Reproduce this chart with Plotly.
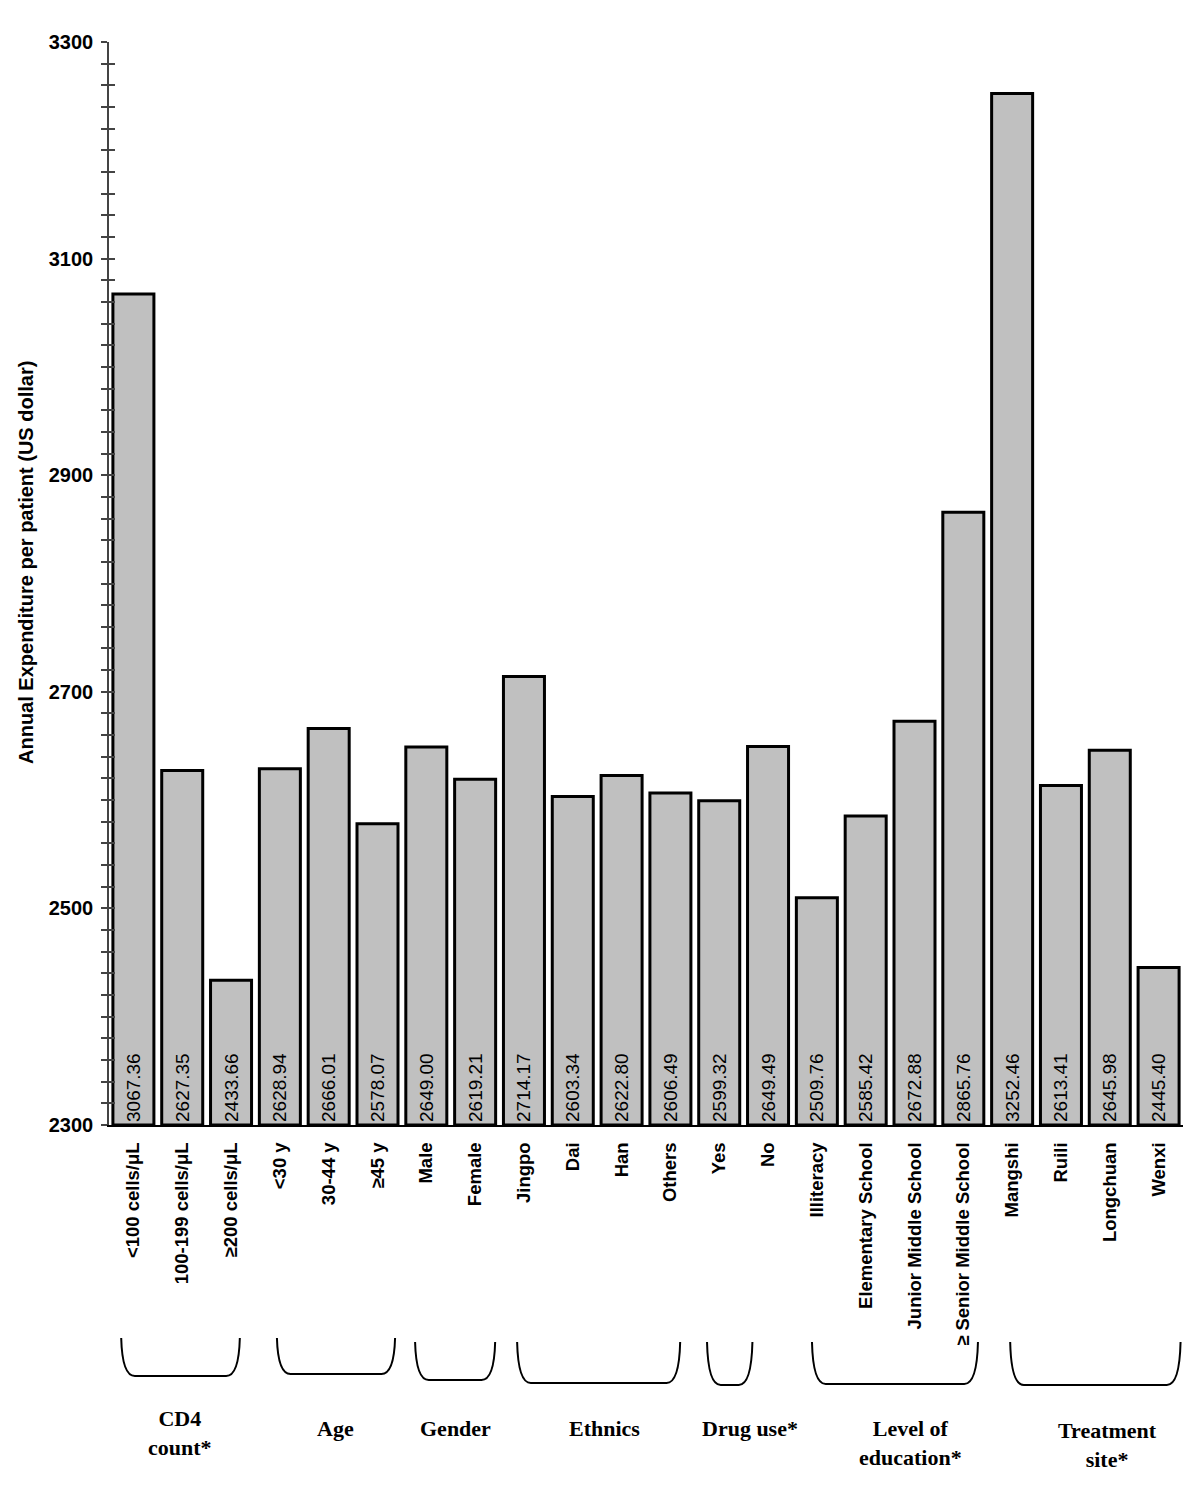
import plotly.graph_objects as go

# ---------------- data ----------------
categories = ["<100 cells/μL", "100-199 cells/μL", "≥200 cells/μL",
              "<30 y", "30-44 y", "≥45 y",
              "Male", "Female",
              "Jingpo", "Dai", "Han", "Others",
              "Yes", "No",
              "Illiteracy", "Elementary School", "Junior Middle School", "≥ Senior Middle School",
              "Mangshi", "Ruili", "Longchuan", "Wenxi"]
values = [3067.36, 2627.35, 2433.66,
          2628.94, 2666.01, 2578.07,
          2649.00, 2619.21,
          2714.17, 2603.34, 2622.80, 2606.49,
          2599.32, 2649.49,
          2509.76, 2585.42, 2672.88, 2865.76,
          3252.46, 2613.41, 2645.98, 2445.40]
group_names = ["CD4<br>count*", "Age", "Gender", "Ethnics", "Drug use*",
               "Level of<br>education*", "Treatment<br>site*"]
group_sizes = [3, 3, 2, 4, 2, 4, 4]

y_min, y_max = 2300, 3300
y_title = "Annual Expenditure per patient (US dollar)"

# ---------------- layout constants ----------------
PAGE_OFF = 8                      # default body margin of the html page
W, H = 1200 - 2 * PAGE_OFF, 1486 - 2 * PAGE_OFF
AX_L, AX_R, AX_T, AX_B = 109, 1183, 42, 1125   # plot area in page pixels
M_L = AX_L - PAGE_OFF
M_R = W - (AX_R - PAGE_OFF)
M_T = AX_T - PAGE_OFF
M_B = H - (AX_B - PAGE_OFF)
PLOT_H = AX_B - AX_T
PLOT_W = AX_R - AX_L

def py2paper(py):
    return (AX_B - py) / PLOT_H

def px2paper(px):
    return (px - AX_L) / PLOT_W

# bracket geometry per group: (left offset, right offset, top px, bottom px)
bracket_geom = [(-0.25, 0.18, 1338, 1376), (-0.06, 0.36, 1338, 1374),
                (-0.23, 0.41, 1342, 1380), (-0.14, 0.20, 1342, 1383),
                (-0.25, -0.32, 1342, 1385), (-0.10, 0.30, 1342, 1384),
                (-0.04, 0.45, 1342, 1385)]
label_geom = [(0.955, 1404), (4.13, 1414), (6.59, 1414), (9.66, 1414),
              (12.64, 1414), (15.91, 1414), (19.95, 1416)]

xs = list(range(len(categories)))
bases = [y_min] * len(values)
lengths = [v - y_min for v in values]

fig = go.Figure()
fig.add_trace(go.Bar(
    x=xs, y=lengths, base=bases, customdata=values,
    texttemplate="%{customdata:.2f}", textposition="inside",
    insidetextanchor="start", textangle=-90, constraintext="none",
    textfont=dict(family="Liberation Sans, Arial", size=19, color="black"),
    marker=dict(color="#c0c0c0", line=dict(color="black", width=3)),
    hoverinfo="skip", showlegend=False,
))
# invisible trace for inside ticks on overlay axis
fig.add_trace(go.Scatter(x=[0], y=[y_min], yaxis="y2", mode="markers",
                         marker=dict(opacity=0), hoverinfo="skip", showlegend=False))

shapes = []
start = 0
for size, (o0, o1, top, bot) in zip(group_sizes, bracket_geom):
    x0 = start + o0
    x1 = start + size - 1 + o1
    yt, yb = py2paper(top), py2paper(bot)
    r = 0.28
    path = (f"M {x0},{yt} Q {x0 + 0.02},{yb} {x0 + r},{yb} "
            f"L {x1 - r},{yb} Q {x1 - 0.02},{yb} {x1},{yt}")
    shapes.append(dict(type="path", path=path, xref="x", yref="paper",
                       line=dict(color="black", width=2)))
    start += size

annotations = []
for name, (lx, ly) in zip(group_names, label_geom):
    annotations.append(dict(x=lx, y=py2paper(ly), xref="x", yref="paper",
                            text=name, showarrow=False, xanchor="center", yanchor="top",
                            font=dict(family="Liberation Serif, Times New Roman", size=22,
                                      color="black", weight="bold")))
annotations.append(dict(x=px2paper(26), y=py2paper(563), xref="paper", yref="paper",
                        text=y_title, showarrow=False, textangle=-90,
                        xanchor="center", yanchor="middle",
                        font=dict(family="Liberation Sans, Arial", size=20,
                                  color="black", weight="bold")))

fig.update_layout(
    width=W, height=H, margin=dict(l=M_L, r=M_R, t=M_T, b=M_B),
    paper_bgcolor="white", plot_bgcolor="white", bargap=0.16,
    shapes=shapes, annotations=annotations,
    xaxis=dict(range=[-0.5, len(categories) - 0.5], tickmode="array", tickvals=xs,
               ticktext=categories, tickangle=-90, ticks="", showgrid=False,
               zeroline=False, showline=True, linecolor="black", linewidth=2,
               ticklabelstandoff=8,
               tickfont=dict(family="Liberation Sans, Arial", size=18.5, color="black",
                             weight="bold")),
    yaxis=dict(range=[y_min, y_max], dtick=200, tick0=y_min, ticks="outside", ticklen=6,
               tickcolor="#444", tickwidth=1.5, showgrid=False, zeroline=False,
               showline=True, linecolor="#444", linewidth=1.5, ticklabelstandoff=4,
               minor=dict(dtick=20, ticks="outside", ticklen=6, tickcolor="#444",
                          tickwidth=1.5),
               tickfont=dict(family="Liberation Sans, Arial", size=20, color="black",
                             weight="bold")),
    yaxis2=dict(range=[y_min, y_max], overlaying="y", side="left", dtick=200, tick0=y_min,
                ticks="inside", ticklen=6, tickcolor="#444", tickwidth=1.5,
                showticklabels=False, showgrid=False, zeroline=False, showline=False,
                minor=dict(dtick=20, ticks="inside", ticklen=6, tickcolor="#444",
                           tickwidth=1.5)),
)

fig.write_html("out.html")
